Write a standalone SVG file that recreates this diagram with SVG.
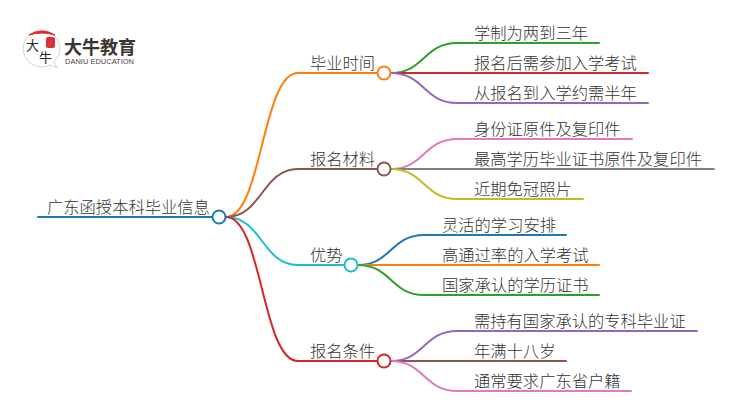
<svg xmlns="http://www.w3.org/2000/svg" width="750" height="410" viewBox="0 0 750 410">
<style>
text{font-family:"Noto Sans CJK SC","Liberation Sans",sans-serif;fill:#333}
.t{font-size:16.300px;font-weight:300}
.l{fill:none;stroke-width:2;stroke-linecap:round}
.n{fill:#fff;stroke-width:2}
.c1{stroke:#1f77b4}.c2{stroke:#ff7f0e}.c3{stroke:#2ca02c}.c4{stroke:#d62728}.c5{stroke:#9467bd}.c6{stroke:#8c564b}.c7{stroke:#e377c2}.c8{stroke:#7f7f7f}.c9{stroke:#bcbd22}.c10{stroke:#17becf}
</style>
<rect width="750" height="410" fill="#fff"/>
<g id="logo">
<path d="M42 30A18.500 18.500 0 1 0 50 65L57 68L54 62A18.500 18.500 0 0 0 42 30Z" fill="#fff" stroke="#c8c8c8" stroke-width="0.8"/>
<path d="M29 35Q42 27 55 35Q42 31 29 35Z" fill="#e0262c" stroke="#e0262c" stroke-width="1"/>
<rect x="46" y="37" width="9" height="11" rx="2" fill="#d8323a"/>
<text x="26" y="50" style="font-size:13px;fill:#222">大</text>
<text x="39" y="62" style="font-size:13px;fill:#222">牛</text>
<text x="64" y="54" style="font-size:18px;font-weight:700;fill:#3a3432">大牛教育</text>
<text x="65" y="63.500" textLength="69" lengthAdjust="spacingAndGlyphs" style="font-size:7px;font-family:'Liberation Sans',sans-serif;fill:#4a4442">DANIU EDUCATION</text>
</g>
<g id="connectors">
<path class="l c1" d="M38 217H213"/>
<path class="l c2" d="M226 217C262 217 262 73 298 73H377"/>
<path class="l c6" d="M226 217C262 217 262 169 298 169H377"/>
<path class="l c10" d="M226 217C262 217 262 265 298 265H344"/>
<path class="l c4" d="M226 217C262 217 262 361 298 361H377"/>
<path class="l c3" d="M391 73C424 73 424 43 457 43H599"/>
<path class="l c4" d="M391 73H648"/>
<path class="l c5" d="M391 73C424 73 424 103 457 103H648"/>
<path class="l c7" d="M391 169C424 169 424 139 457 139H632"/>
<path class="l c8" d="M391 169H714"/>
<path class="l c9" d="M391 169C424 169 424 199 457 199H583"/>
<path class="l c1" d="M358 265C391 265 391 235 424 235H566"/>
<path class="l c2" d="M358 265H599"/>
<path class="l c3" d="M358 265C391 265 391 295 424 295H599"/>
<path class="l c5" d="M391 361C424 361 424 331 457 331H697"/>
<path class="l c6" d="M391 361H566"/>
<path class="l c7" d="M391 361C424 361 424 391 457 391H631"/>
</g>
<g id="root"><circle class="n c1" cx="219" cy="217" r="6.500"/><text class="t" x="47" y="212.500">广东函授本科毕业信息</text></g>
<g id="b1"><circle class="n c2" cx="384" cy="73" r="6.500"/><text class="t" x="310" y="68.500">毕业时间</text></g>
<g id="b2"><circle class="n c6" cx="384" cy="169" r="6.500"/><text class="t" x="310" y="164.500">报名材料</text></g>
<g id="b3"><circle class="n c10" cx="351" cy="265" r="6.500"/><text class="t" x="310" y="260.500">优势</text></g>
<g id="b4"><circle class="n c4" cx="384" cy="361" r="6.500"/><text class="t" x="310" y="356.500">报名条件</text></g>
<g id="l1"><text class="t" x="474" y="38.500">学制为两到三年</text></g>
<g id="l2"><text class="t" x="474" y="68.500">报名后需参加入学考试</text></g>
<g id="l3"><text class="t" x="474" y="98.500">从报名到入学约需半年</text></g>
<g id="l4"><text class="t" x="474" y="134.500">身份证原件及复印件</text></g>
<g id="l5"><text class="t" x="474" y="164.500">最高学历毕业证书原件及复印件</text></g>
<g id="l6"><text class="t" x="474" y="194.500">近期免冠照片</text></g>
<g id="l7"><text class="t" x="442" y="230.500">灵活的学习安排</text></g>
<g id="l8"><text class="t" x="442" y="260.500">高通过率的入学考试</text></g>
<g id="l9"><text class="t" x="442" y="290.500">国家承认的学历证书</text></g>
<g id="l10"><text class="t" x="474" y="326.500">需持有国家承认的专科毕业证</text></g>
<g id="l11"><text class="t" x="474" y="356.500">年满十八岁</text></g>
<g id="l12"><text class="t" x="474" y="386.500">通常要求广东省户籍</text></g>
</svg>
